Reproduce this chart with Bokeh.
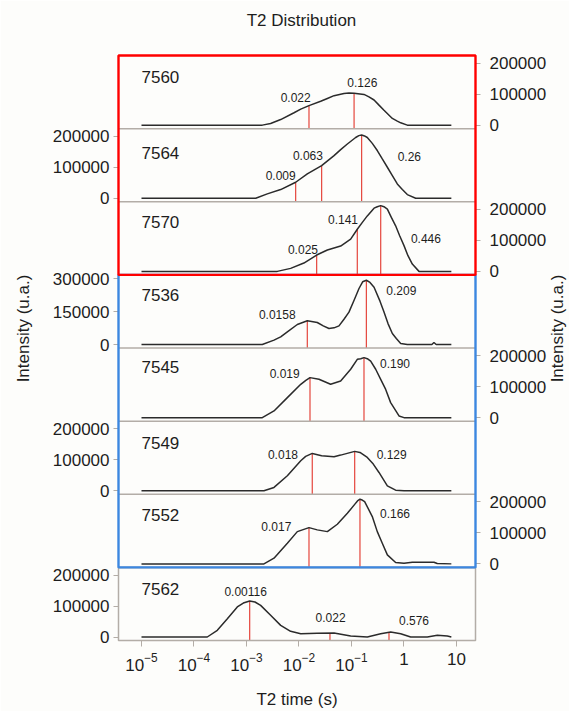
import numpy as np
from bokeh.plotting import figure
from bokeh.models import Range1d, LinearAxis, FixedTicker, BoxAnnotation, Label
from bokeh.core.properties import value
from bokeh.embed import file_html
from bokeh.resources import INLINE

# ---------------- data ----------------
samples = ["7560", "7564", "7570", "7536", "7545", "7549", "7552", "7562"]

t2_7560 = [1e-5, 2.0e-3, 2.88e-3, 4.48e-3, 8.04e-3, 1.08e-2, 1.55e-2, 2.59e-2, 3.47e-2, 4.65e-2,
           7.19e-2, 8.95e-2, 0.112, 0.173, 0.215, 0.269, 0.334, 0.416, 0.600, 0.746, 0.865, 1.156, 7.98]
int_7560 = [0, 0, 5400, 18000, 40000, 51600, 63000, 77000, 86000, 95000,
            102000, 103500, 103000, 99000, 91000, 81000, 64500, 48000, 21500, 13000, 7500, 0, 0]

t2_7564 = [1e-5, 1.50e-3, 2.49e-3, 4.48e-3, 8.65e-3, 1.44e-2, 2.70e-2, 4.65e-2, 6.22e-2, 8.34e-2,
           0.120, 0.138, 0.156, 0.177, 0.200, 0.249, 0.310, 0.386, 0.482, 0.600, 0.746, 0.93, 1.156,
           1.67, 7.98]
int_7564 = [0, 0, 14000, 28000, 51600, 78500, 105000, 137600, 157000, 175000,
            196000, 202000, 204000, 201000, 196000, 177000, 154000, 127000, 100000, 73000, 46000,
            28000, 11800, 0, 0]

t2_7570 = [1e-5, 3.86e-3, 6.93e-3, 1.24e-2, 2.17e-2, 3.47e-2, 6.22e-2, 9.64e-2, 0.129, 0.161,
           0.200, 0.269, 0.310, 0.360, 0.415, 0.482, 0.574, 0.693, 0.827, 1.0, 1.19, 1.44, 1.93, 7.98]
int_7570 = [0, 0, 9700, 26900, 52700, 68800, 81700, 104000, 136000, 158000,
            179000, 204000, 208500, 212000, 208500, 201000, 174000, 147000, 115000, 83000, 50500,
            23700, 0, 0]

t2_7536 = [1e-5, 2.0e-3, 3.34e-3, 4.48e-3, 6.0e-3, 9.29e-3, 1.44e-2, 2.23e-2, 2.90e-2, 3.72e-2,
           4.65e-2, 5.78e-2, 7.19e-2, 8.95e-2, 0.112, 0.139, 0.163, 0.192, 0.225, 0.269, 0.349,
           0.416, 0.496, 0.600, 0.714, 0.865, 1.156, 3.40, 3.72, 4.10, 7.98]
int_7536 = [0, 0, 19700, 35000, 57600, 90900, 107600, 100000, 84800, 72700,
            75800, 84800, 115000, 147000, 201500, 254500, 285000, 292000, 282000, 260000, 197000,
            148000, 95000, 50000, 27000, 4500, 0, 0, 9000, 0, 0]

t2_7545 = [1e-5, 2.0e-3, 3.34e-3, 6.0e-3, 1.08e-2, 1.35e-2, 1.62e-2, 2.40e-2, 4.0e-2, 6.22e-2,
           9.64e-2, 0.129, 0.150, 0.173, 0.200, 0.232, 0.289, 0.360, 0.448, 0.557, 0.804, 1.0, 7.98]
int_7545 = [0, 0, 21500, 64500, 107500, 120400, 129000, 123600, 107500, 118000,
            156000, 188000, 190000, 193500, 190000, 182000, 156000, 123600, 91000, 48400, 5400, 0, 0]

t2_7549 = [1e-5, 2.15e-3, 3.34e-3, 6.0e-3, 1.08e-2, 1.34e-2, 1.79e-2, 2.70e-2, 4.65e-2, 6.22e-2,
           0.115, 0.145, 0.200, 0.260, 0.334, 0.482, 0.693, 1.0, 7.98]
int_7549 = [0, 0, 10750, 48400, 96800, 110700, 120400, 113000, 109600, 115000,
            127000, 123600, 107500, 86000, 59000, 16000, 2000, 0, 0]

t2_7552 = [1e-5, 2.15e-3, 3.34e-3, 6.0e-3, 9.29e-3, 1.55e-2, 2.23e-2, 3.47e-2, 5.37e-2, 8.34e-2,
           0.115, 0.130, 0.145, 0.160, 0.178, 0.249, 0.310, 0.386, 0.482, 0.693, 1.0, 1.44, 3.72,
           4.3, 7.98]
int_7552 = [0, 0, 18300, 66700, 104000, 117000, 109700, 104000, 127800, 163000,
            192000, 203000, 208500, 206000, 201000, 152600, 104000, 66700, 29000, 4300, 2000, 5400,
            5400, 1000, 0]

t2_7562 = [1e-5, 1.79e-4, 2.78e-4, 4.32e-4, 6.68e-4, 8.7e-4, 1.15e-3, 1.45e-3, 1.86e-3, 2.88e-3,
           4.48e-3, 6.93e-3, 1.08e-2, 2.23e-2, 4.65e-2, 9.64e-2, 0.200, 0.360, 0.557, 0.865, 1.34,
           2.78, 4.32, 6.68, 7.98]
int_7562 = [0, 0, 21500, 59000, 96800, 109600, 116000, 112900, 102000, 69900,
            37600, 18300, 10750, 11800, 12900, 3200, 0, 10750, 16100, 10750, 0,
            0, 5400, 3200, 0]

curves = {
    "7560": (t2_7560, int_7560), "7564": (t2_7564, int_7564), "7570": (t2_7570, int_7570),
    "7536": (t2_7536, int_7536), "7545": (t2_7545, int_7545), "7549": (t2_7549, int_7549),
    "7552": (t2_7552, int_7552), "7562": (t2_7562, int_7562),
}

# red marker lines (T2, s)
marker_t2 = {
    "7560": [0.0155, 0.112], "7564": [0.00864, 0.027, 0.156], "7570": [0.0217, 0.129, 0.360],
    "7536": [0.0144, 0.192], "7545": [0.0162, 0.173], "7549": [0.0179, 0.115],
    "7552": [0.0155, 0.145], "7562": [0.00115, 0.0389, 0.518],
}
# annotation texts and where they sit (T2, intensity)
note_text = {
    "7560": ["0.022", "0.126"], "7564": ["0.009", "0.063", "0.26"], "7570": ["0.025", "0.141", "0.446"],
    "7536": ["0.0158", "0.209"], "7545": ["0.019", "0.190"], "7549": ["0.018", "0.129"],
    "7552": ["0.017", "0.166"], "7562": ["0.00116", "0.022", "0.576"],
}
note_t2 = {
    "7560": [8.65e-3, 0.161], "7564": [4.48e-3, 1.48e-2, 1.265], "7570": [1.19e-2, 6.89e-2, 2.62],
    "7536": [3.86e-3, 0.889], "7545": [5.33e-3, 0.675], "7549": [4.95e-3, 0.582],
    "7552": [3.70e-3, 0.675], "7562": [9.64e-4, 4.0e-2, 1.55],
}
note_int = {
    "7560": [89000, 137600], "7564": [73000, 136500, 135000], "7570": [72000, 167700, 107500],
    "7536": [137900, 244000], "7545": [143000, 175000], "7549": [116000, 118000],
    "7552": [120000, 163000], "7562": [148000, 62000, 53700],
}
name_int = {"7560": 156000, "7564": 145000, "7570": 160000, "7536": 224000,
            "7545": 164500, "7549": 153700, "7552": 158000, "7562": 156000}

y_ticks = {s: [0, 100000, 200000] for s in samples}
y_ticks["7536"] = [0, 150000, 300000]
y_tick_labels = {s: [str(v) for v in y_ticks[s]] for s in samples}
axis_side = ["right", "left", "right", "left", "right", "left", "right", "left"]

x_ticks = [1e-5, 1e-4, 1e-3, 1e-2, 1e-1, 1.0, 10.0]

box_groups = [(3, 7, "#3c87e0"), (0, 3, "#ff0000")]   # (first panel, end panel, colour)

TITLE = "T2 Distribution"
X_TITLE = "T2 time (s)"
Y_TITLE = "Intensity (u.a.)"

# ---------------- layout / style ----------------
FONT = "Liberation Sans"
TXT = "#1d1d1d"
BG = "#fdfdfb"
GREY = "#b3ada7"
RED_LINE = "#e5463c"
W, H = 569, 711
BOX_L, BOX_R, BOX_T, BOX_B = 118, 475, 55, 640     # plotting box in page pixels
PAD = 2
ML, MR, MT, MB = BOX_L - PAD, W - BOX_R - PAD, BOX_T - PAD, H - BOX_B - PAD
BW = BOX_R - BOX_L
BH = BOX_B - BOX_T
LOG_MIN, LOG_MAX = -5.438, 1.362
DEC_PX = BW / (LOG_MAX - LOG_MIN)
N = len(samples)
PANEL_PX = BH / N
Z0 = 3.5 / PANEL_PX
PX_PER_1E5 = {"7536": 22.0}


def full_scale(s):
    return PANEL_PX / PX_PER_1E5.get(s, 31.0) * 1e5


xs, xe = 10 ** LOG_MIN, 10 ** LOG_MAX
y_lo, y_hi = -PAD / PANEL_PX, N + PAD / PANEL_PX

p = figure(width=W, height=H, x_axis_type="log", title=None,
           x_range=Range1d(10 ** (LOG_MIN - PAD / DEC_PX), 10 ** (LOG_MAX + PAD / DEC_PX)),
           y_range=Range1d(y_lo, y_hi),
           output_backend="svg", toolbar_location=None,
           min_border_left=ML, min_border_right=MR, min_border_top=MT, min_border_bottom=MB,
           background_fill_color=BG, border_fill_color=BG, outline_line_color=None)
p.grid.visible = False

extra = {}
for k, s in enumerate(samples):
    base = N - 1 - k
    fs = full_scale(s)
    extra[f"r{k}"] = Range1d((y_lo - base - Z0) * fs, (y_hi - base - Z0) * fs)
p.extra_y_ranges = extra

left_ticks, left_over, right_ticks, right_over = [], {}, [], {}
for k, s in enumerate(samples):
    base = N - 1 - k
    fs = full_scale(s)
    rn = f"r{k}"
    t, v = curves[s]
    lt = marker_t2[s]
    tops = np.interp(np.log10(lt), np.log10(t), v)
    bottom = -Z0 * fs
    p.segment(x0=lt, y0=[bottom] * len(lt), x1=lt, y1=list(tops), y_range_name=rn,
              line_color=RED_LINE, line_width=1.2)
    p.line(t, v, y_range_name=rn, line_color="#2b2b2b", line_width=1.5)
    p.text(x=note_t2[s], y=note_int[s], text=note_text[s], y_range_name=rn,
           text_font=value(FONT), text_font_size="12px", text_align="center",
           text_baseline="middle", text_color=TXT)
    p.text(x=[t[0]], y=[name_int[s]], text=[s], y_range_name=rn,
           text_font=value(FONT), text_font_size="17px", text_align="left",
           text_baseline="middle", text_color=TXT)
    for tv, tl in zip(y_ticks[s], y_tick_labels[s]):
        pos = round(base + Z0 + tv / fs, 6)
        if axis_side[k] == "left":
            left_ticks.append(pos)
            left_over[pos] = tl
        else:
            right_ticks.append(pos)
            right_over[pos] = tl

# panel separators
p.segment(x0=[xs] * (N - 1), x1=[xe] * (N - 1), y0=list(range(1, N)), y1=list(range(1, N)),
          line_color=GREY, line_width=1.5)

# frames
p.add_layout(BoxAnnotation(left=xs, right=xe, bottom=0, top=1, fill_alpha=0,
                           line_color=GREY, line_alpha=1.0, line_width=1.5))
for a, b, col in box_groups:
    p.add_layout(BoxAnnotation(left=xs, right=xe, bottom=N - b, top=N - a, fill_alpha=0,
                               line_color=col, line_alpha=1.0, line_width=2.4))


def style_y(ax):
    ax.axis_line_color = None
    ax.major_tick_line_color = GREY
    ax.major_tick_out = 3
    ax.major_tick_in = 2
    ax.minor_tick_line_color = None
    ax.major_label_text_font = FONT
    ax.major_label_text_font_size = "17px"
    ax.major_label_text_color = TXT


yl = p.yaxis[0]
yl.ticker = FixedTicker(ticks=left_ticks, minor_ticks=[])
yl.major_label_overrides = left_over
style_y(yl)
yl.major_label_standoff = 4

yr = LinearAxis(ticker=FixedTicker(ticks=right_ticks, minor_ticks=[]),
                major_label_overrides=right_over)
style_y(yr)
yr.major_label_standoff = 9
p.add_layout(yr, "right")


def side_label(text, x, y, angle=0.0, size="17px"):
    return Label(x=x, y=y, x_units="screen", y_units="screen", text=text, angle=angle,
                 text_align="center", text_baseline="middle", text_font=FONT,
                 text_font_size=size, text_color=TXT)


# intensity titles on both sides (both read bottom to top, as in the source)
Y_TITLE_MID = BOX_B + PAD - 328
p.add_layout(side_label(Y_TITLE, -7, Y_TITLE_MID, np.pi / 2), "left")
p.add_layout(side_label(Y_TITLE, 8, Y_TITLE_MID, np.pi / 2), "right")
# chart title
p.add_layout(side_label(TITLE, 185, BOX_T - PAD - 20), "above")

xa = p.xaxis[0]
xa.ticker = FixedTicker(ticks=x_ticks, minor_ticks=[])
xa.major_label_overrides = {1.0: "1", 10.0: "10"}
xa.axis_line_color = None
xa.major_tick_line_color = GREY
xa.major_tick_out = 4
xa.major_tick_in = 2
xa.minor_tick_line_color = None
xa.major_label_text_font = FONT
xa.major_label_text_font_size = "17px"
xa.major_label_text_color = TXT
xa.major_label_standoff = 6
xa.axis_label = X_TITLE
xa.axis_label_text_font = FONT
xa.axis_label_text_font_size = "17px"
xa.axis_label_text_font_style = "normal"
xa.axis_label_text_color = TXT
xa.axis_label_standoff = 16

open("out.html", "w").write(file_html(p, INLINE))
